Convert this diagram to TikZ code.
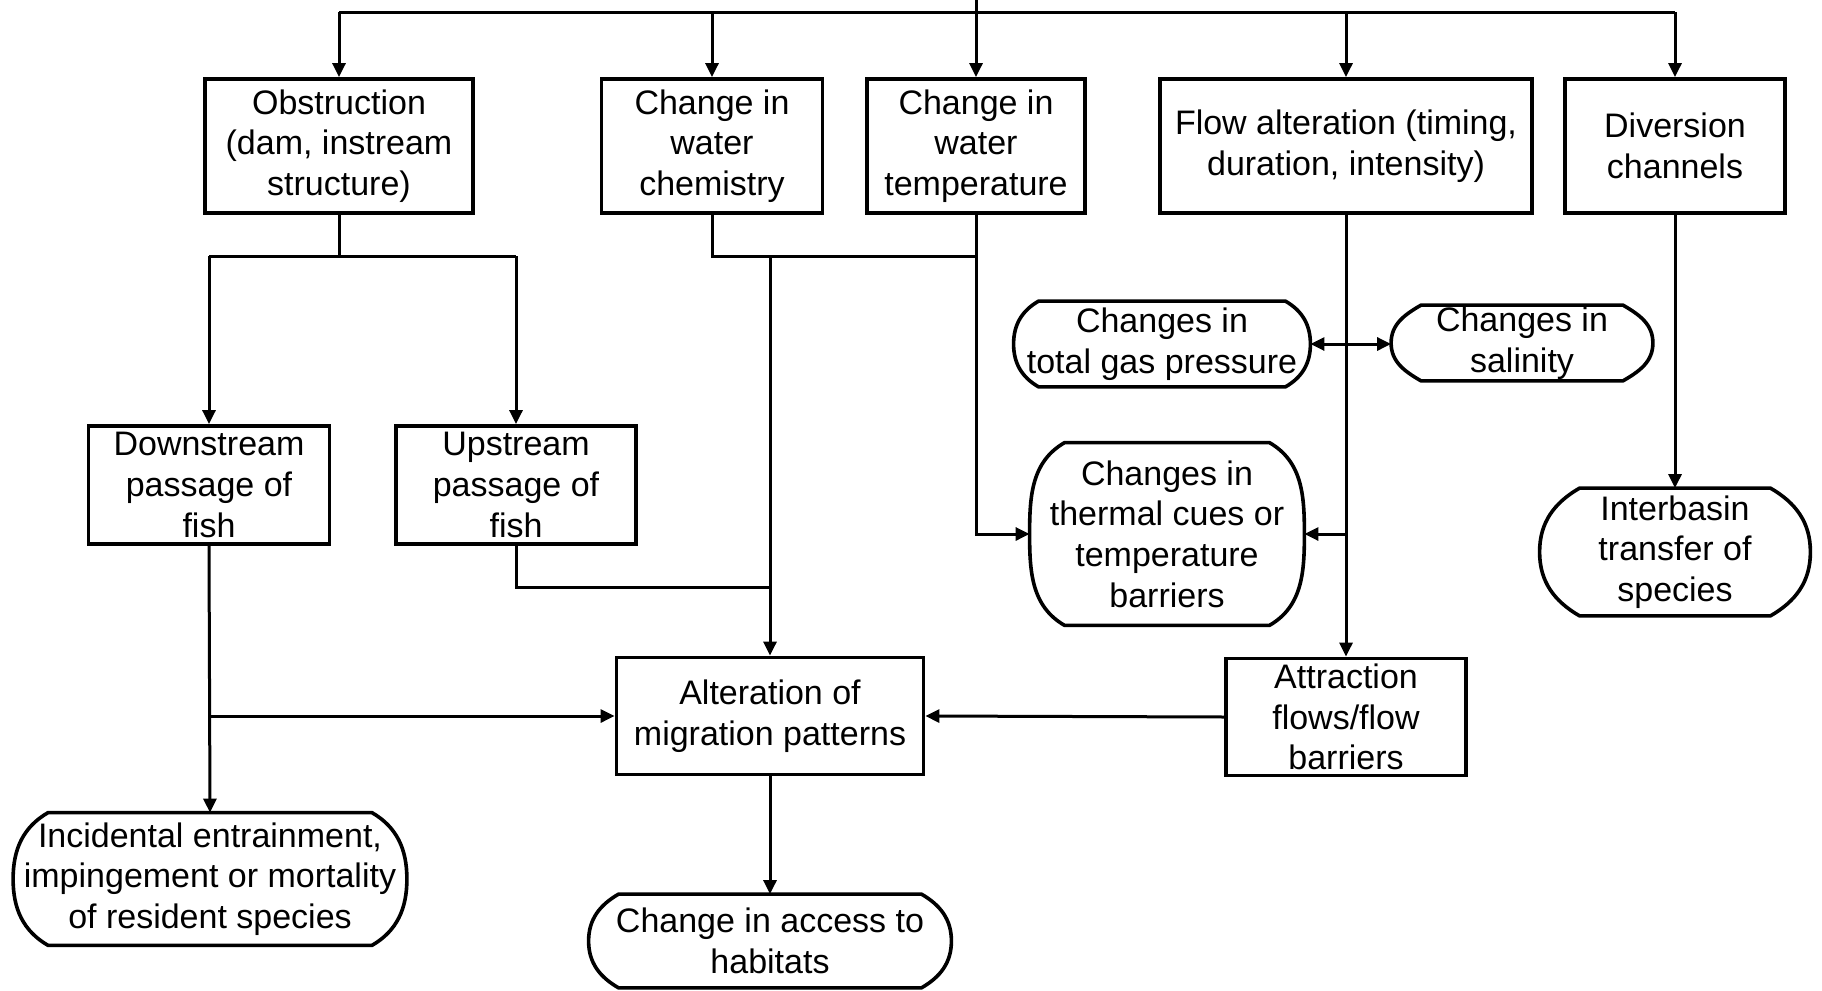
\documentclass[tikz,border=0pt]{standalone}
\usepackage{fontspec}
\setmainfont{Liberation Sans}
\usetikzlibrary{calc,arrows.meta}

\newcommand\termoutline[2]{% node name, side bulge
  \draw[outline] ($(#1.north west)+(#2,0)$) -- ($(#1.north east)+(-#2,0)$)
    to[out=-30,in=90] (#1.east) to[out=-90,in=30] ($(#1.south east)+(-#2,0)$)
    -- ($(#1.south west)+(#2,0)$) to[out=150,in=-90] (#1.west)
    to[out=90,in=210] ($(#1.north west)+(#2,0)$) -- cycle;}

\begin{document}
\begin{tikzpicture}[x=0.5pt,y=0.5pt,
  txt/.style={align=center,inner sep=0pt,font=\fontsize{17}{20.3}\selectfont},
  box/.style={txt,draw,line width=1.9pt},
  term/.style={txt},
  outline/.style={line width=1.8pt,line join=round},
  conn/.style={line width=1.5pt},
  arr/.style={conn,-{Triangle[length=7pt,width=6.5pt]}},
  darr/.style={conn,{Triangle[length=7pt,width=6.5pt]}-{Triangle[length=7pt,width=6.5pt]}}]
\useasboundingbox (0,0) rectangle (1822,-991);

% top row
\node[box,minimum width=134pt,minimum height=67pt] (obs) at (339,-146) {Obstruction\\(dam, instream\\structure)};
\node[box,minimum width=110.5pt,minimum height=67pt] (chem) at (712,-146) {Change in\\water\\chemistry};
\node[box,minimum width=109pt,minimum height=67pt] (temp) at (976,-146) {Change in\\water\\temperature};
\node[box,minimum width=186pt,minimum height=67pt] (flow) at (1346,-146) {Flow alteration (timing,\\duration, intensity)};
\node[box,minimum width=110pt,minimum height=67pt] (divr) at (1675,-146) {Diversion\\channels};

% second level
\node[box,minimum width=120.5pt,minimum height=59pt] (dstr) at (209,-485) {Downstream\\passage of\\fish};
\node[box,minimum width=120pt,minimum height=59pt] (ustr) at (516,-485) {Upstream\\passage of\\fish};
\node[box,minimum width=153.5pt,minimum height=58.5pt] (alt) at (770,-716) {Alteration of\\migration patterns};
\node[box,minimum width=120pt,minimum height=58.5pt] (attr) at (1346,-717) {Attraction\\flows/flow\\barriers};

% rounded outcome shapes
\node[term,minimum width=148pt,minimum height=42.5pt] (gas) at (1162,-344) {Changes in\\total gas pressure};
\node[term,minimum width=130.5pt,minimum height=37.5pt] (sal) at (1522,-343) {Changes in\\salinity};
\node[term,minimum width=137pt,minimum height=91pt] (therm) at (1167,-534) {Changes in\\thermal cues or\\temperature\\barriers};
\node[term,minimum width=135pt,minimum height=63.5pt] (intb) at (1675,-552) {Interbasin\\transfer of\\species};
\node[term,minimum width=196.5pt,minimum height=66pt] (incid) at (210,-879) {Incidental entrainment,\\impingement or mortality\\of resident species};
\node[term,minimum width=181pt,minimum height=46.5pt] (acc) at (770,-941) {Change in access to\\habitats};

\termoutline{gas}{25}
\termoutline{sal}{30}
\termoutline{therm}{35}
\termoutline{intb}{40}
\termoutline{incid}{35}
\termoutline{acc}{30}

% junction points
\coordinate (src) at (976,0);
\coordinate (bus) at (976,-12);
\coordinate (jo) at (339,-256);
\coordinate (jc) at (712,-256);
\coordinate (ju) at (516,-587);

% top distribution bus
\draw[conn] (obs.north |- bus) -- (divr.north |- bus);
\draw[arr] (src) -- (temp.north);
\draw[arr] (obs.north |- bus) -- (obs.north);
\draw[arr] (chem.north |- bus) -- (chem.north);
\draw[arr] (flow.north |- bus) -- (flow.north);
\draw[arr] (divr.north |- bus) -- (divr.north);

% obstruction branches
\draw[conn] (obs.south) -- (jo);
\draw[conn] (dstr.north |- jo) -- (ustr.north |- jo);
\draw[arr] (dstr.north |- jo) -- (dstr.north);
\draw[arr] (ustr.north |- jo) -- (ustr.north);

% chemistry and temperature
\draw[conn] (chem.south) -- (jc) -- (temp.south |- jc);
\draw[arr] (alt.north |- jc) -- (alt.north);
\draw[arr] (temp.south) -- (temp.south |- therm.west) -- (therm.west);

% upstream passage joins the chemistry line
\draw[conn] (ustr.south) -- (ju) -- (alt.north |- ju);

% downstream passage
\draw[arr] (dstr.south) -- (incid.north);
\draw[arr] (dstr.south |- alt.west) -- (alt.west);

% migration patterns to habitat access
\draw[arr] (alt.south) -- (acc.north);

% flow alteration
\draw[arr] (flow.south) -- (attr.north);
\draw[darr] (gas.east) -- (gas.east -| sal.west);
\draw[arr] (flow.south |- therm.east) -- (therm.east);
\draw[arr] (attr.west) -- (alt.east);

% diversion channels
\draw[arr] (divr.south) -- (intb.north);
\end{tikzpicture}
\end{document}
